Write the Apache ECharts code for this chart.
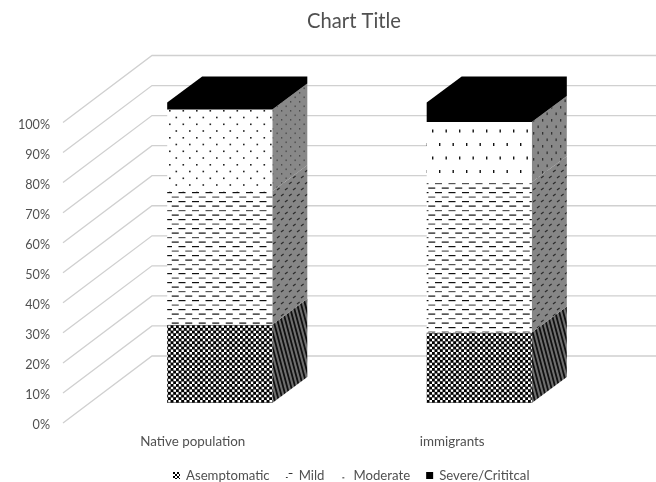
<!DOCTYPE html>
<html><head><meta charset="utf-8">
<style>html,body{margin:0;padding:0;background:#fff}#c{width:656px;height:482px}</style>
<script src="https://cdn.jsdelivr.net/npm/echarts@6/dist/echarts.min.js"></script>
</head><body><div id="c"></div>
<script>
const categories = ['Native population', 'immigrants'];
const asemptomatic = [26, 23.5];
const mild = [44.5, 50];
const moderate = [27.2, 20];
const severe = [2.3, 6.5];
const wallTicks = [0,10,20,30,40,50,60,70,80,90,100];
const seriesNames = ['Asemptomatic', 'Mild', 'Moderate', 'Severe/Crititcal'];
const seriesValues = [asemptomatic, mild, moderate, severe];

const FONT = 'Lato';
const TXT = '#505050';
const WALL = [89, -67], PLANE = [27, -20], DEPTH = [35, -26], BAR_RATIO = 0.405;

function tile(w, h, draw, bg) {
  const c = document.createElement('canvas');
  c.width = w; c.height = h;
  const g = c.getContext('2d');
  if (bg) { g.fillStyle = bg; g.fillRect(0, 0, w, h); }
  draw(g);
  return { image: c, repeat: 'repeat' };
}
const P = {
  frontChecker: tile(16, 16, g => {
    g.fillStyle = '#000';
    const p = 16 / 6;
    for (let i = 0; i < 6; i++) for (let j = 0; j < 6; j++) if ((i + j) % 2 === 0) g.fillRect(i * p - 0.15, j * p - 0.15, p + 0.3, p + 0.3);
  }, '#fff'),
  sideChecker: tile(4, 15, g => {
    g.strokeStyle = '#101010'; g.lineWidth = 1.8;
    for (let i = -1; i <= 1; i++) { g.beginPath(); g.moveTo(i * 4 - 0.27, -1); g.lineTo(i * 4 + 4.27, 16); g.stroke(); }
  }, '#6e6e6e'),
  dashes: tile(27, 27, g => {
    for (let r = 0; r < 6; r++) {
      g.fillStyle = r % 3 === 1 ? '#555' : '#111';
      const off = r % 2 ? 6.75 : 0;
      for (let k = -1; k < 3; k++) g.fillRect(k * 13.5 + off + 3, r * 4.5 + 3, 7, 1.2);
    }
  }, '#fff'),
  sideDashes: tile(8, 12, g => {
    g.strokeStyle = '#2a2a2a'; g.lineWidth = 1.1;
    [[1, 4], [5, 10]].forEach(([x, y]) => { g.beginPath(); g.moveTo(x, y); g.lineTo(x + 2.6, y - 2); g.stroke(); });
  }, '#868686'),
  dotsA: tile(27, 27, g => {
    g.fillStyle = '#222';
    [[7, 2], [20.5, 2], [0, 8.7], [13.5, 8.7], [7, 15.5], [20.5, 15.5], [0, 22.2], [13.5, 22.2]]
      .forEach(([x, y]) => g.fillRect(x, y, 1.6, 1.6));
  }, '#fff'),
  dotsB: tile(27, 27, g => {
    g.fillStyle = '#111';
    [[7, 8], [20.5, 8], [0, 21.5], [13.5, 21.5]].forEach(([x, y]) => g.fillRect(x, y, 1.4, 3));
  }, '#fff'),
  sideDots: tile(9, 9, g => {
    g.fillStyle = '#4c4c4c';
    g.fillRect(2, 2, 1.3, 1.6); g.fillRect(6.5, 6.5, 1.3, 1.6);
  }, '#888'),
  sideDotsB: tile(9, 13, g => {
    g.fillStyle = '#333';
    g.fillRect(2, 2, 1.3, 2.6); g.fillRect(6.5, 8.5, 1.3, 2.6);
  }, '#888')
};
const frontFills = [
  [P.frontChecker, P.frontChecker],
  [P.dashes, P.dashes],
  [P.dotsA, P.dotsB],
  ['#000', '#000']
];
const sideFills = [
  [P.sideChecker, P.sideChecker],
  [P.sideDashes, P.sideDashes],
  [P.sideDots, P.sideDotsB],
  ['#000', '#000']
];
const legendIcons = [
  tile(4, 4, g => { g.fillStyle = '#000'; g.fillRect(0, 0, 2, 2); g.fillRect(2, 2, 2, 2); }, '#fff'),
  tile(8, 8, g => { g.fillStyle = '#333'; g.fillRect(3, 1, 4, 1); g.fillRect(0, 5, 2, 1); }, '#fff'),
  tile(8, 8, g => { g.fillStyle = '#444'; g.fillRect(2, 5, 1.5, 1.5); }, '#fff'),
  '#000'
];

function barRender(si) {
  const solid = si === seriesValues.length - 1;
  return function (params, api) {
    const cat = api.value(0), lo = api.value(1), hi = api.value(2);
    const cx = api.coord([cat, 0])[0];
    const w = api.size([1, 0])[0] * BAR_RATIO;
    const xL = cx + PLANE[0] - w / 2, xR = xL + w;
    const yB = api.coord([cat, lo])[1] + PLANE[1];
    const yT = api.coord([cat, hi])[1] + PLANE[1];
    if (solid) {
      return { type: 'polygon', shape: { points: [
        [xL, yB], [xL, yT], [xL + DEPTH[0], yT + DEPTH[1]], [xR + DEPTH[0], yT + DEPTH[1]],
        [xR + DEPTH[0], yB + DEPTH[1]], [xR, yB]] }, style: { fill: '#000' } };
    }
    return { type: 'group', children: [
      { type: 'polygon', shape: { points: [[xR, yB], [xR + DEPTH[0], yB + DEPTH[1]], [xR + DEPTH[0], yT + DEPTH[1]], [xR, yT]] },
        style: { fill: sideFills[si][cat] } },
      { type: 'rect', shape: { x: xL, y: yT, width: w, height: yB - yT }, style: { fill: frontFills[si][cat] } }
    ] };
  };
}
const barSeries = seriesNames.map((name, si) => ({
  name, type: 'custom', z: 3 + si,
  itemStyle: { color: frontFills[si][0] },
  renderItem: barRender(si),
  data: categories.map((_, c) => {
    let lo = 0;
    for (let k = 0; k < si; k++) lo += seriesValues[k][c];
    return [c, lo, lo + seriesValues[si][c]];
  }),
  encode: { x: 0, y: [1, 2] }, silent: true, animation: false
}));
const wallSeries = {
  type: 'custom', z: 1, silent: true, animation: false,
  renderItem(params, api) {
    const y = api.coord([0, api.value(0)])[1];
    const x0 = params.coordSys.x;
    const x1 = x0 + WALL[0], y1 = y + WALL[1];
    return { type: 'polyline',
      shape: { points: [[x0, y], [x1, y1], [1000, y1]] },
      style: { stroke: '#d0d0d0', lineWidth: 1.3, fill: 'none' } };
  },
  data: wallTicks.map(v => [v]), encode: { y: 0 }
};

const chart = echarts.init(document.getElementById('c'), null, { renderer: 'canvas' });
chart.setOption({
  animation: false,
  backgroundColor: '#fff',
  title: { text: 'Chart Title', left: 349, top: 6, textAlign: 'center',
    textStyle: { fontFamily: FONT, fontSize: 20.2, fontWeight: 'normal', color: TXT } },
  legend: {
    left: 173, top: 469, itemWidth: 7, itemHeight: 7, itemGap: 16, padding: 0,
    textStyle: { fontFamily: FONT, fontSize: 13.2, color: TXT, padding: [0, 0, 0, 1] },
    data: seriesNames.map((name, i) => ({ name, icon: 'rect', itemStyle: { color: legendIcons[i], borderWidth: 0 } })),
    selectedMode: false
  },
  grid: { left: 63, right: 74, top: 122.5, bottom: 59 },
  xAxis: {
    type: 'category', data: categories,
    axisLine: { show: false }, axisTick: { show: false }, splitLine: { show: false },
    axisLabel: { margin: 12, fontFamily: FONT, fontSize: 13.4, color: TXT, interval: 0 }
  },
  yAxis: {
    type: 'value', min: 0, max: 100, interval: 10,
    axisLine: { show: false }, axisTick: { show: false }, splitLine: { show: false },
    axisLabel: { margin: 13, fontFamily: FONT, fontSize: 12.6, color: TXT, formatter: '{value}%',
      verticalAlign: 'top', lineHeight: 4 }
  },
  series: [wallSeries].concat(barSeries)
});
</script></body></html>
